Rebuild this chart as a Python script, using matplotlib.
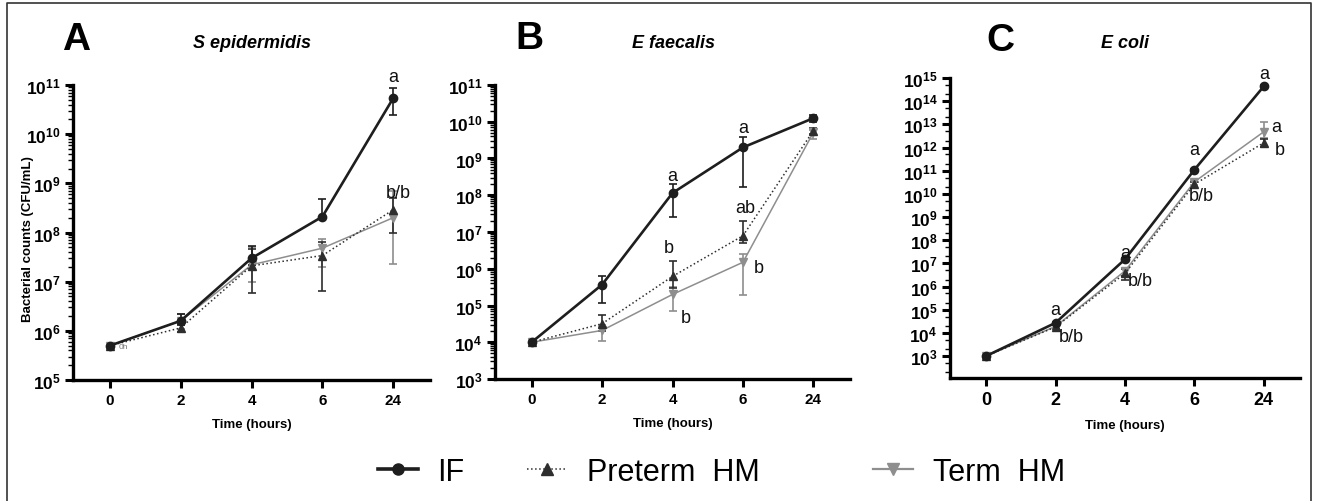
"""
Bacterial growth in IF, preterm HM and term HM - three log-scale panels.
"""

import numpy as np
import matplotlib
matplotlib.use("Agg")
import matplotlib.pyplot as plt
from matplotlib.lines import Line2D
from matplotlib.ticker import FixedLocator, LogLocator, NullFormatter


# =============================================================================
# DATA
# =============================================================================

TIME_LABELS = ["0", "2", "4", "6", "24"]

# Panel A - S epidermidis
A_IF = [5.0e5, 1.6e6, 3.0e7, 2.1e8, 5.4e10]
A_IF_LO = [5.0e5, 1.3e6, 2.2e7, 2.1e8, 2.5e10]
A_IF_HI = [5.0e5, 2.2e6, 5.2e7, 4.7e8, 8.6e10]
A_PRE = [5.0e5, 1.15e6, 2.1e7, 3.4e7, 2.9e8]
A_PRE_LO = [5.0e5, 9.5e5, 6.0e6, 6.5e6, 1.0e8]
A_PRE_HI = [5.0e5, 1.4e6, 4.6e7, 6.5e7, 5.0e8]
A_TERM = [5.0e5, 1.6e6, 2.2e7, 4.8e7, 2.0e8]
A_TERM_LO = [5.0e5, 1.1e6, 1.0e7, 2.0e7, 2.3e7]
A_TERM_HI = [5.0e5, 2.2e6, 5.0e7, 7.5e7, 7.0e8]

# Panel B - E faecalis
B_IF = [1.0e4, 3.7e5, 1.15e8, 2.0e9, 1.25e10]
B_IF_LO = [1.0e4, 1.2e5, 2.5e7, 1.7e8, 1.0e10]
B_IF_HI = [1.0e4, 6.2e5, 2.0e8, 3.9e9, 1.55e10]
B_PRE = [1.0e4, 3.2e4, 6.2e5, 7.9e6, 5.7e9]
B_PRE_LO = [1.0e4, 2.0e4, 3.0e5, 5.0e6, 4.5e9]
B_PRE_HI = [1.0e4, 5.5e4, 1.6e6, 1.95e7, 6.8e9]
B_TERM = [1.0e4, 2.1e4, 2.0e5, 1.5e6, 5.1e9]
B_TERM_LO = [1.0e4, 1.1e4, 7.3e4, 1.9e5, 3.4e9]
B_TERM_HI = [1.0e4, 3.0e4, 3.1e5, 2.5e6, 6.0e9]

# Panel C - E coli
C_IF = [1.0e3, 2.7e4, 1.5e7, 1.1e11, 4.4e14]
C_IF_LO = [1.0e3, 2.5e4, 1.3e7, 1.0e11, 4.0e14]
C_IF_HI = [1.0e3, 2.9e4, 1.7e7, 1.2e11, 4.8e14]
C_PRE = [1.0e3, 1.8e4, 3.7e6, 2.6e10, 1.6e12]
C_PRE_LO = [1.0e3, 1.5e4, 2.0e6, 1.8e10, 1.1e12]
C_PRE_HI = [1.0e3, 2.1e4, 5.5e6, 3.4e10, 2.3e12]
C_TERM = [1.0e3, 1.9e4, 4.7e6, 3.3e10, 4.8e12]
C_TERM_LO = [1.0e3, 1.6e4, 2.8e6, 2.5e10, 2.5e12]
C_TERM_HI = [1.0e3, 2.2e4, 6.0e6, 4.0e10, 1.3e13]

# significance letters: text, x (time index), y (CFU/mL)
A_SIG_TEXT = ["a", "b/b"]
A_SIG_X = [4.0, 4.07]
A_SIG_Y = [1.5e11, 6.6e8]

B_SIG_TEXT = ["a", "a", "ab", "b", "b", "b"]
B_SIG_X = [2.0, 3.0, 3.03, 1.95, 3.23, 2.19]
B_SIG_Y = [3.4e8, 7.0e9, 4.7e7, 3.8e6, 1.1e6, 4.8e4]

C_SIG_TEXT = ["a", "b/b", "a", "b/b", "a", "b/b", "a", "a", "b"]
C_SIG_X = [1.0, 1.22, 2.0, 2.22, 3.0, 3.1, 4.0, 4.18, 4.23]
C_SIG_Y = [1.0e5, 7.2e3, 2.8e7, 1.9e6, 8.5e11, 8.1e9, 1.5e15, 7.9e12, 8.5e11]


# =============================================================================
# STYLE
# =============================================================================

plt.rcParams["font.family"] = ["Liberation Sans", "DejaVu Sans"]
plt.rcParams["mathtext.fontset"] = "custom"
plt.rcParams["mathtext.rm"] = "Liberation Sans"
plt.rcParams["mathtext.bf"] = "Liberation Sans:bold"

IF_COLOR = "#1e1e1e"
PRE_COLOR = "#2e2e2e"
TERM_COLOR = "#8e8e8e"


def draw_series(ax, x, y, lo, hi, color, ls, lw, marker, ms):
    y = np.array(y)
    yerr = np.vstack([y - np.array(lo), np.array(hi) - y])
    ax.errorbar(x, y, yerr=yerr, color=color, ls=ls, lw=lw,
                marker=marker, ms=ms, elinewidth=1.2, capsize=3,
                capthick=1.2, clip_on=False, zorder=3)


def setup_panel(ax, ylo_exp, yhi_exp, ymin, minor_subs, tick_fs, xtick_fs):
    x = np.arange(len(TIME_LABELS))
    ax.set_yscale("log")
    ax.set_ylim(ymin, 10.0 ** yhi_exp)
    ax.set_xlim(-0.52, 4.52)
    ax.set_xticks(x)
    ax.set_xticklabels(TIME_LABELS, fontsize=xtick_fs, fontweight="bold")

    exps = list(range(ylo_exp, yhi_exp + 1))
    ax.yaxis.set_major_locator(FixedLocator([10.0 ** e for e in exps]))
    ax.set_yticklabels([r"$\mathbf{10^{%d}}$" % e for e in exps], fontsize=tick_fs)
    ax.yaxis.set_minor_locator(LogLocator(base=10, subs=minor_subs, numticks=40))
    ax.yaxis.set_minor_formatter(NullFormatter())

    for side in ["top", "right"]:
        ax.spines[side].set_visible(False)
    for side in ["left", "bottom"]:
        ax.spines[side].set_linewidth(2.4)
    ax.tick_params(axis="both", which="major", length=6, width=2.2, pad=3)
    ax.tick_params(axis="y", which="minor", length=3.5, width=1.0)
    ax.tick_params(axis="x", which="minor", length=0)


fig = plt.figure(figsize=(13.18, 5.02), dpi=100)

ax_a = fig.add_axes([0.0554, 0.241, 0.2709, 0.5877])
ax_b = fig.add_axes([0.3756, 0.243, 0.2693, 0.5857])
ax_c = fig.add_axes([0.7208, 0.245, 0.2655, 0.5976])

panels = [
    (ax_a, (A_IF, A_IF_LO, A_IF_HI), (A_PRE, A_PRE_LO, A_PRE_HI),
     (A_TERM, A_TERM_LO, A_TERM_HI), A_SIG_TEXT, A_SIG_X, A_SIG_Y),
    (ax_b, (B_IF, B_IF_LO, B_IF_HI), (B_PRE, B_PRE_LO, B_PRE_HI),
     (B_TERM, B_TERM_LO, B_TERM_HI), B_SIG_TEXT, B_SIG_X, B_SIG_Y),
    (ax_c, (C_IF, C_IF_LO, C_IF_HI), (C_PRE, C_PRE_LO, C_PRE_HI),
     (C_TERM, C_TERM_LO, C_TERM_HI), C_SIG_TEXT, C_SIG_X, C_SIG_Y),
]

x = np.arange(len(TIME_LABELS))
for ax, if_d, pre_d, term_d, s_txt, s_x, s_y in panels:
    draw_series(ax, x, *term_d, TERM_COLOR, "-", 1.1, "v", 5.5)
    draw_series(ax, x, *pre_d, PRE_COLOR, ":", 1.1, "^", 5.5)
    draw_series(ax, x, *if_d, IF_COLOR, "-", 1.9, "o", 6)
    for t, sx, sy in zip(s_txt, s_x, s_y):
        ax.text(sx, sy, t, fontsize=13, ha="center", va="center",
                color="#111111", clip_on=False, zorder=5)

setup_panel(ax_a, 5, 11, 1e5, np.arange(2, 10), 12.5, 11)
setup_panel(ax_b, 3, 11, 1e3, np.arange(2, 10), 12.5, 11)
setup_panel(ax_c, 3, 15, 10.0 ** 2.05, (2.0, 5.0), 12.5, 13)

ax_a.text(0.13, 4.9e5, "0h", fontsize=6, color="#777777", ha="left", va="center")
ax_a.set_ylabel("Bacterial counts (CFU/mL)", fontsize=9.5, fontweight="bold")
# label sits between the tick labels and the frame, as in the original
ax_a.yaxis.set_label_coords(-0.11, 0.48)

for ax in [ax_a, ax_b, ax_c]:
    ax.set_xlabel("Time (hours)", fontsize=9.5, fontweight="bold", labelpad=8)

# panel letters + organism names
fig.text(76 / 1318, 1 - 40 / 502, "A", fontsize=28, fontweight="bold", ha="center", va="center")
fig.text(529 / 1318, 1 - 39 / 502, "B", fontsize=28, fontweight="bold", ha="center", va="center")
fig.text(1000 / 1318, 1 - 41 / 502, "C", fontsize=28, fontweight="bold", ha="center", va="center")
fig.text(252 / 1318, 1 - 43 / 502, "S epidermidis", fontsize=13, fontweight="bold",
         style="italic", ha="center", va="center")
fig.text(674 / 1318, 1 - 43 / 502, "E faecalis", fontsize=13, fontweight="bold",
         style="italic", ha="center", va="center")
fig.text(1125 / 1318, 1 - 43 / 502, "E coli", fontsize=13, fontweight="bold",
         style="italic", ha="center", va="center")

# legend: three single entries, placed like the original
legend_items = [
    ("IF", Line2D([], [], color=IF_COLOR, lw=2.6, marker="o", ms=8), 378),
    ("Preterm  HM", Line2D([], [], color=PRE_COLOR, lw=1.1, ls=":", marker="^", ms=8), 527),
    ("Term  HM", Line2D([], [], color=TERM_COLOR, lw=1.6, marker="v", ms=8), 873),
]
for label, handle, x_px in legend_items:
    fig.legend([handle], [label], loc="center left",
               bbox_to_anchor=(x_px / 1318, 1 - 473 / 502), frameon=False,
               fontsize=22, handlelength=1.3, handletextpad=0.65,
               borderpad=0, borderaxespad=0)

# thin frame round the figure (open at the bottom)
frame_x = [7 / 1318, 7 / 1318, 1311 / 1318, 1311 / 1318]
frame_y = [0.0, 1 - 4 / 502, 1 - 4 / 502, 0.0]
fig.add_artist(Line2D(frame_x, frame_y, transform=fig.transFigure,
                      color="#333333", lw=1.2))

fig.savefig("out.png", dpi=100)
